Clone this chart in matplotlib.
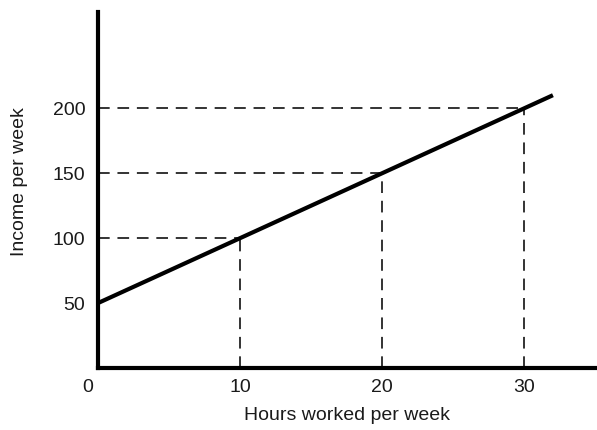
import numpy as np
import matplotlib.pyplot as plt
import matplotlib.transforms as mtransforms

plt.rcParams['font.family'] = ['Liberation Sans', 'DejaVu Sans']

# income line: base pay plus hourly rate
hours_line = [0, 32]
income_line = [50, 210]

# marked points with guide lines
hours_marked = [10, 20, 30]
income_marked = [100, 150, 200]

x_ticks = [0, 10, 20, 30]
y_ticks = [50, 100, 150, 200]

fig = plt.figure(figsize=(5.97, 4.30), dpi=100)
ax = fig.add_axes([0.164, 0.144, 0.836, 0.828])

ax.plot(hours_line, income_line, color='black', lw=3, solid_capstyle='butt', zorder=3)

# dashed guides from the axes to the line
for h, inc in zip(hours_marked, income_marked):
    ax.plot([0, h], [inc, inc], color='#333333', lw=1.4, dashes=(6, 4), zorder=2)
    ax.plot([h, h], [0, inc], color='#333333', lw=1.4, dashes=(6, 4), zorder=2)

ax.set_xlim(0, 35.1)
ax.set_ylim(0, 274)

ax.spines['top'].set_visible(False)
ax.spines['right'].set_visible(False)
ax.spines['left'].set_linewidth(3)
ax.spines['bottom'].set_linewidth(3)

ax.set_xticks(x_ticks)
ax.set_yticks(y_ticks)
ax.tick_params(length=0, labelsize=14, labelcolor='#1a1a1a')
ax.tick_params(axis='x', pad=8)
ax.tick_params(axis='y', pad=9)

# the origin label sits a little left of the axis
zero_lbl = ax.get_xticklabels()[0]
zero_lbl.set_transform(zero_lbl.get_transform() +
                       mtransforms.ScaledTranslation(-0.1, 0, fig.dpi_scale_trans))

ax.set_xlabel('Hours worked per week', fontsize=14, color='#1a1a1a', labelpad=8)
ax.set_ylabel('Income per week', fontsize=14, color='#1a1a1a', labelpad=18)
ax.yaxis.label.set_y(0.525)

plt.savefig('out.png', dpi=100)
